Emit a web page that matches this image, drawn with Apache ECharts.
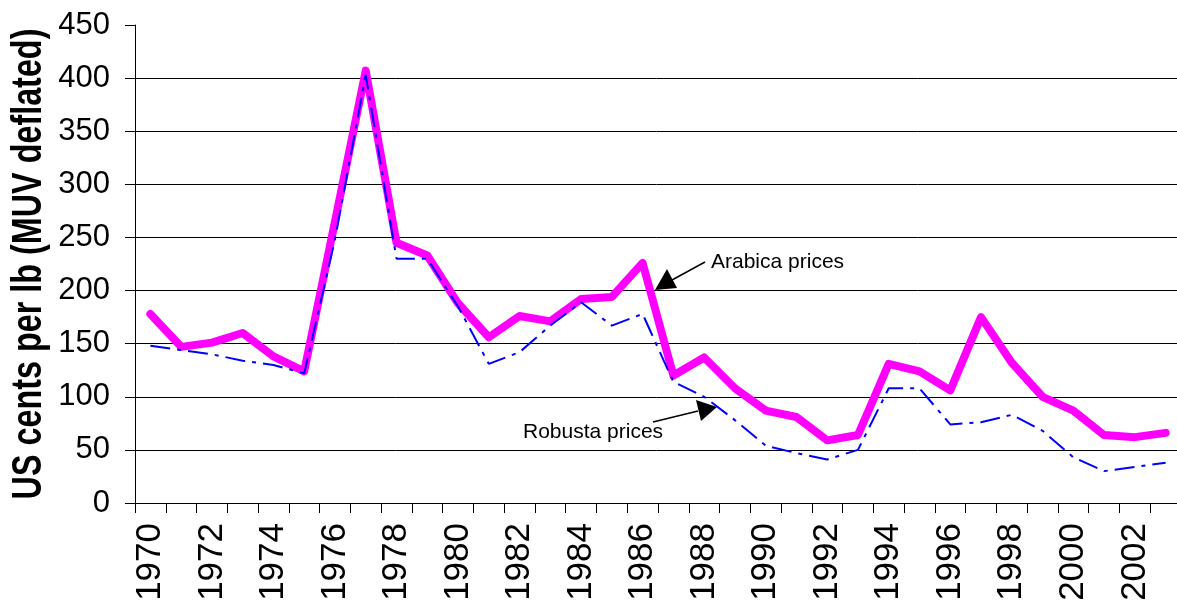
<!DOCTYPE html>
<html>
<head>
<meta charset="utf-8">
<script src="https://cdn.jsdelivr.net/npm/echarts@6/dist/echarts.min.js"></script>
<style>
  html, body { margin: 0; padding: 0; background: #fff; }
  #chart { width: 1177px; height: 601px; }
</style>
</head>
<body>
<div id="chart"></div>
<script>
const years = []
for (let y = 1970; y <= 2003; y++) years.push(String(y))

// arabica and robusta prices, US cents per lb (MUV deflated)
const arabica = [178, 147, 151, 160, 138, 124, 265, 407, 245, 233, 188, 156, 176, 171, 192, 194, 226, 120, 137, 108, 87, 81, 59, 64, 131, 124, 106, 175, 132, 100, 87, 64, 62, 66]
const robusta = [148, 144, 140, 134, 130, 122, 248, 403, 230, 230, 185, 131, 142, 167, 189, 167, 178, 114, 100, 78, 54, 47, 41, 50, 108, 108, 74, 76, 83, 68, 43, 30, 34, 38]

const yTicks = [0, 50, 100, 150, 200, 250, 300, 350, 400, 450]

const chart = echarts.init(document.getElementById('chart'))

const font = 'Liberation Sans, Arial, sans-serif'

chart.setOption({
  animation: false,
  grid: { left: 135, top: 25, width: 1046, bottom: 98, outerBoundsMode: 'none', containLabel: false },
  xAxis: {
    type: 'category',
    data: years,
    boundaryGap: true,
    axisLine: { lineStyle: { color: '#000', width: 1 } },
    axisTick: { show: true, interval: 0, length: 10, lineStyle: { color: '#000' } },
    axisLabel: {
      interval: 1,
      rotate: 90,
      margin: 20,
      color: '#000',
      fontFamily: font,
      fontSize: 35
    },
    splitLine: { show: false }
  },
  yAxis: {
    type: 'value',
    min: yTicks[0],
    max: yTicks[yTicks.length - 1],
    interval: 50,
    axisLine: { show: true, lineStyle: { color: '#000', width: 1 } },
    axisTick: { show: true, length: 10, lineStyle: { color: '#000' } },
    axisLabel: { margin: 25, color: '#000', fontFamily: font, fontSize: 31 },
    splitLine: {
      show: true,
      lineStyle: { color: '#000', width: 1 },
      showMaxLine: false
    }
  },
  series: [
    {
      name: 'Arabica prices',
      type: 'line',
      data: arabica,
      showSymbol: false,
      symbol: 'none',
      lineStyle: { color: '#ff00ff', width: 8, join: 'round', cap: 'round' }
    },
    {
      name: 'Robusta prices',
      type: 'line',
      data: robusta,
      showSymbol: false,
      symbol: 'none',
      lineStyle: { color: '#0000ff', width: 2, type: [20, 7, 4, 7] }
    }
  ],
  graphic: [
    // y axis title, condensed like the original
    {
      type: 'text',
      x: 29, y: 264,
      rotation: Math.PI / 2,
      scaleX: 0.77,
      style: {
        text: 'US cents per lb (MUV deflated)',
        fill: '#000',
        font: 'bold 42px ' + font,
        align: 'center',
        verticalAlign: 'middle'
      }
    },
    { type: 'text', left: 711, top: 252, style: { text: 'Arabica prices', fill: '#000', font: '21px ' + font } },
    { type: 'line', shape: { x1: 705, y1: 262, x2: 672, y2: 280 }, style: { stroke: '#000', lineWidth: 1.5 } },
    { type: 'polygon', shape: { points: [[655, 290], [667, 269], [677, 288]] }, style: { fill: '#000' } },
    { type: 'text', left: 523, top: 422, style: { text: 'Robusta prices', fill: '#000', font: '21px ' + font } },
    { type: 'line', shape: { x1: 653, y1: 422, x2: 698, y2: 411 }, style: { stroke: '#000', lineWidth: 1.5 } },
    { type: 'polygon', shape: { points: [[717, 407], [696, 400], [701, 421]] }, style: { fill: '#000' } }
  ]
})
</script>
</body>
</html>
